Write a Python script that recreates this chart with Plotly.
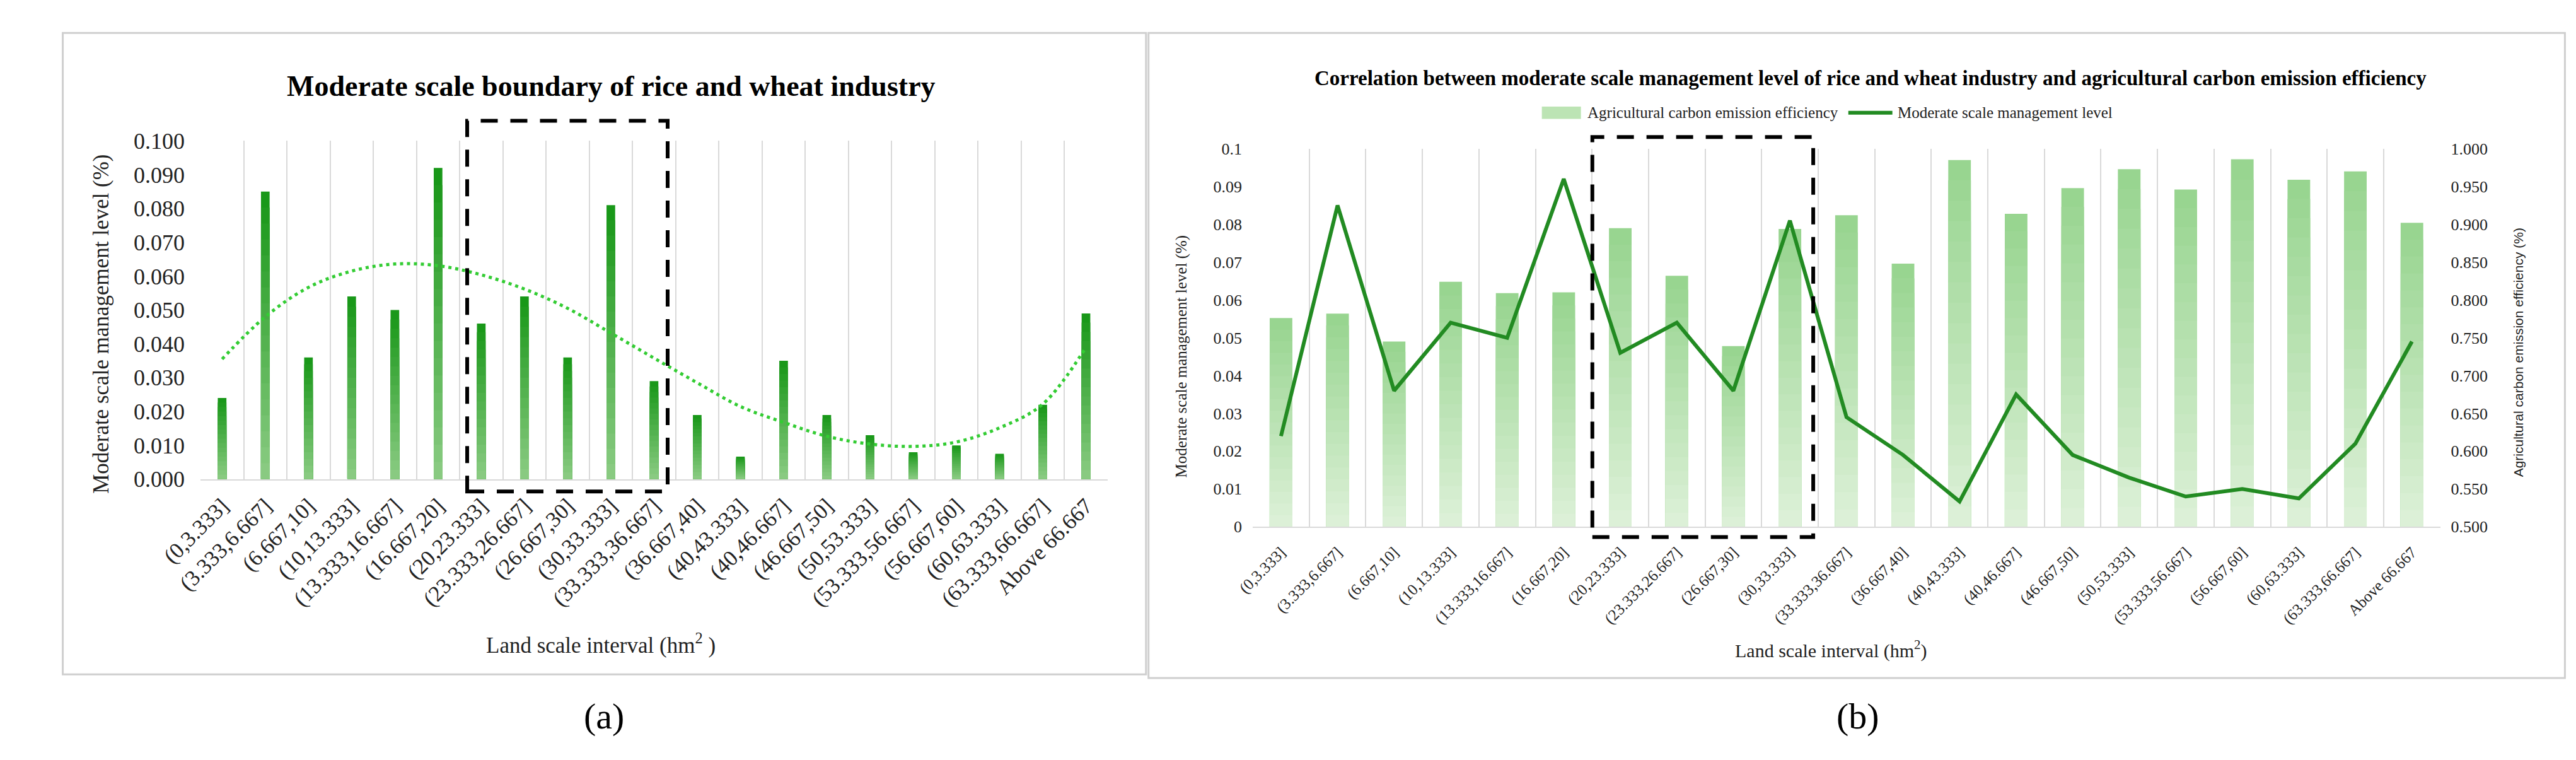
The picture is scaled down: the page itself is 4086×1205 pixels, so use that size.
import plotly.graph_objects as go

W, H = 4086, 1205


def px(x):
    return x / W


def py(y):
    return 1 - y / H


categories = ["(0,3.333]", "(3.333,6.667]", "(6.667,10]", "(10,13.333]", "(13.333,16.667]",
              "(16.667,20]", "(20,23.333]", "(23.333,26.667]", "(26.667,30]", "(30,33.333]",
              "(33.333,36.667]", "(36.667,40]", "(40,43.333]", "(40,46.667]", "(46.667,50]",
              "(50,53.333]", "(53.333,56.667]", "(56.667,60]", "(60,63.333]", "(63.333,66.667]",
              "Above 66.667"]

# Moderate scale management level (%)
scale_level = [0.024, 0.085, 0.036, 0.054, 0.050, 0.092, 0.046, 0.054, 0.036, 0.081,
               0.029, 0.019, 0.0067, 0.035, 0.019, 0.013, 0.008, 0.010, 0.0075, 0.022, 0.049]

# Polynomial trend line of panel (a)
trend_level = [0.0355, 0.0480, 0.0567, 0.0615, 0.0636, 0.0631, 0.0604, 0.0562, 0.0505, 0.0432,
               0.0358, 0.0285, 0.0215, 0.0168, 0.0127, 0.0104, 0.0097, 0.0110, 0.0152, 0.0222, 0.0390]

# Agricultural carbon emission efficiency (%)
carbon_eff = [0.776, 0.782, 0.745, 0.824, 0.809, 0.810, 0.895, 0.832, 0.739, 0.894,
              0.912, 0.848, 0.985, 0.914, 0.948, 0.973, 0.946, 0.986, 0.959, 0.970, 0.902]

legend_names = ["Agricultural carbon emission efficiency", "Moderate scale management level"]

SERIF = "Liberation Serif"
SANS = "Liberation Sans"
N_STEPS = 18
LINE_GREEN = "#228b22"


def mix(c1, c2, t):
    return "rgb({},{},{})".format(*[round(a + (b - a) * t) for a, b in zip(c1, c2)])


A_TOP, A_BOT = (22, 150, 22), (140, 204, 132)
B_TOP, B_BOT = (150, 212, 142), (222, 241, 217)

fig = go.Figure()

# ---- Panel (a): gradient bars ----
for k in range(N_STEPS, 0, -1):
    frac = k / N_STEPS
    fig.add_trace(go.Bar(
        x=categories, y=[v * frac for v in scale_level], width=0.2,
        marker=dict(color=mix(A_BOT, A_TOP, (k - 0.5) / N_STEPS), line=dict(width=0)),
        xaxis="x", yaxis="y", showlegend=False, hoverinfo="skip"))

fig.add_trace(go.Scatter(
    x=categories, y=trend_level, mode="lines", xaxis="x", yaxis="y",
    line=dict(color="#33cc33", width=5, dash="5px,6px", shape="spline"),
    showlegend=False, hoverinfo="skip"))

# ---- Panel (b): gradient bars on right axis ----
lo = 0.5
for k in range(N_STEPS, 0, -1):
    frac = k / N_STEPS
    fig.add_trace(go.Bar(
        x=categories, y=[lo + (v - lo) * frac for v in carbon_eff], width=0.4,
        marker=dict(color=mix(B_BOT, B_TOP, (k - 0.5) / N_STEPS), line=dict(width=0)),
        xaxis="x2", yaxis="y2", name=legend_names[0], showlegend=False, hoverinfo="skip"))

fig.add_trace(go.Scatter(
    x=categories, y=scale_level, mode="lines", xaxis="x2", yaxis="y3",
    line=dict(color=LINE_GREEN, width=6), name=legend_names[1], showlegend=False))

grid = "#d9d9d9"
xcommon = dict(type="category", tickson="boundaries", showgrid=True, gridcolor=grid, gridwidth=2,
               showline=True, linecolor=grid, linewidth=2, ticks="", tickangle=-45,
               range=[-0.5, 20.5], zeroline=False)

fig.update_layout(
    width=W, height=H, margin=dict(l=0, r=0, t=0, b=0),
    paper_bgcolor="white", plot_bgcolor="white", barmode="overlay", showlegend=False,
    font=dict(family=SERIF, color="black"),
    xaxis=dict(**xcommon, domain=[px(249), px(1711)], anchor="y",
               tickfont=dict(family=SERIF, size=35, color="#222"), ticklabelstandoff=6),
    yaxis=dict(domain=[py(758), py(203)], anchor="x", range=[0, 0.1], dtick=0.01,
               tickformat=".3f", showgrid=False, zeroline=False, showline=False, ticks="",
               tickfont=dict(family=SERIF, size=36, color="#222"), ticklabelstandoff=24),
    xaxis2=dict(**xcommon, domain=[px(1945), px(3859)], anchor="y2",
                tickfont=dict(family=SERIF, size=25, color="#222"), ticklabelstandoff=14),
    yaxis2=dict(domain=[py(836), py(216)], anchor="x2", side="right", range=[0.5, 1.0],
                dtick=0.05, tickformat=".3f", showgrid=False, zeroline=False, ticks="",
                tickfont=dict(family=SERIF, size=26, color="#222"), ticklabelstandoff=16),
    yaxis3=dict(overlaying="y2", anchor="x2", side="left", range=[0, 0.1], dtick=0.01,
                showgrid=False, zeroline=False, ticks="",
                tickfont=dict(family=SERIF, size=26, color="#222"), ticklabelstandoff=16),
)

ann = []
ann.append(dict(text="<b>Moderate scale boundary of rice and wheat industry</b>", x=px(911), y=py(113),
                font=dict(family=SERIF, size=46, color="black")))
ann.append(dict(text="<b>Correlation between moderate scale management level of rice and wheat industry "
                     "and agricultural carbon emission efficiency</b>", x=px(2941), y=py(100),
                font=dict(family=SERIF, size=33, color="black")))
ann.append(dict(text="Moderate scale management level (%)", x=px(89), y=py(504), textangle=-90,
                font=dict(family=SERIF, size=35, color="#222")))
ann.append(dict(text="Land scale interval (hm<sup>2</sup> )", x=px(894), y=py(1028),
                font=dict(family=SERIF, size=35, color="#222")))
ann.append(dict(text="Moderate scale management level (%)", x=px(1830), y=py(556), textangle=-90,
                font=dict(family=SERIF, size=25, color="#222")))
ann.append(dict(text="Agricultural carbon emission efficiency (%)", x=px(3985), y=py(550), textangle=-90,
                font=dict(family=SANS, size=21, color="#222")))
ann.append(dict(text="Land scale interval (hm<sup>2</sup>)", x=px(2877), y=py(1037),
                font=dict(family=SERIF, size=30, color="#222")))
ann.append(dict(text="(a)", x=px(899), y=py(1147), font=dict(family=SERIF, size=58, color="black")))
ann.append(dict(text="(b)", x=px(2920), y=py(1147), font=dict(family=SERIF, size=58, color="black")))
for a in ann:
    a.update(xanchor="center")
# legend texts (left-anchored)
ann.append(dict(text=legend_names[0], x=px(2482), y=py(157), xanchor="left",
                font=dict(family=SERIF, size=25, color="#222")))
ann.append(dict(text=legend_names[1], x=px(2982), y=py(157), xanchor="left",
                font=dict(family=SERIF, size=25, color="#222")))
for a in ann:
    a.update(xref="paper", yref="paper", showarrow=False, yanchor="middle")
fig.update_layout(annotations=ann)

shapes = [
    # panel borders
    dict(type="rect", xref="paper", yref="paper", x0=px(27), x1=px(1773), y0=py(1078), y1=py(26),
         line=dict(color="#cfcfcf", width=3), layer="below"),
    dict(type="rect", xref="paper", yref="paper", x0=px(1777), x1=px(4060), y0=py(1084), y1=py(26),
         line=dict(color="#cfcfcf", width=3), layer="below"),
    # dashed highlight boxes
    dict(type="rect", xref="x domain", yref="y domain", x0=0.294, x1=0.515, y0=-0.036, y1=1.059,
         line=dict(color="black", width=6, dash="27px,20px")),
    dict(type="rect", xref="x2 domain", yref="y2 domain", x0=0.286, x1=0.472, y0=-0.027, y1=1.031,
         line=dict(color="black", width=6, dash="27px,20px")),
    # legend keys
    dict(type="rect", xref="paper", yref="paper", x0=px(2411), x1=px(2474), y0=py(167), y1=py(147),
         fillcolor="rgb(188,228,180)", line=dict(width=0)),
    dict(type="line", xref="paper", yref="paper", x0=px(2905), x1=px(2976), y0=py(157), y1=py(157),
         line=dict(color=LINE_GREEN, width=6)),
]
fig.update_layout(shapes=shapes)

fig.write_html("out.html")
